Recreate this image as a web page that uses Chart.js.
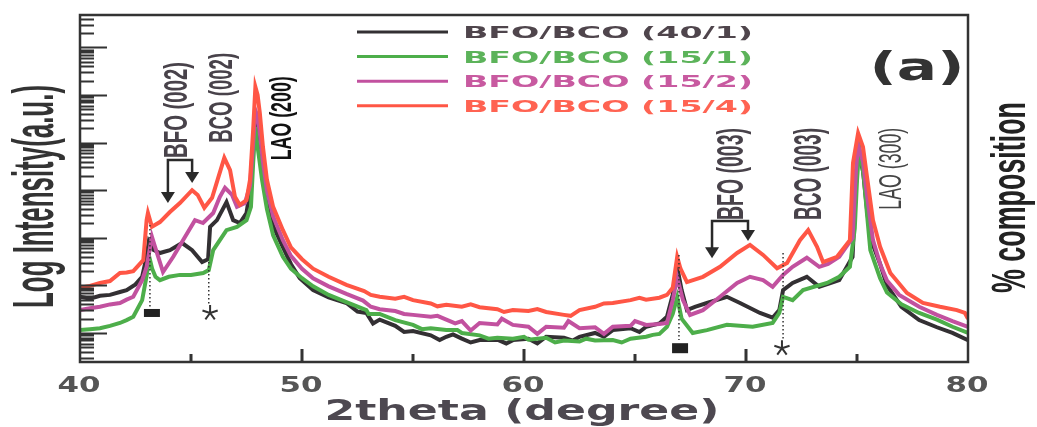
<!DOCTYPE html>
<html>
<head>
<meta charset="utf-8">
<title>XRD BFO/BCO</title>
<script src="https://cdn.jsdelivr.net/npm/chart.js@4.4.1/dist/chart.umd.min.js"></script>
<style>
  html, body { margin: 0; padding: 0; background: #fff; }
  #wrap { width: 1037px; height: 427px; }
</style>
</head>
<body>
<div id="wrap"><canvas id="xrd" width="1037" height="427"></canvas></div>
<script>
// [2theta (deg), log10 intensity]
const bfoBco40_1 = [
  [40,1.76],[40.45,1.72],[40.9,1.78],[41.35,1.80],[41.8,1.86],[42.1,1.90],[42.5,2.02],[42.8,2.18],
  [43.0,2.60],[43.1,2.92],[43.3,2.75],[43.6,2.68],[44.05,2.74],[44.6,2.89],[45.05,2.74],[45.5,2.49],
  [45.77,2.55],[45.86,3.23],[46.17,3.37],[46.6,3.75],[46.9,3.37],[47.2,3.31],[47.5,3.52],[47.66,4.00],
  [47.8,4.90],[47.9,5.55],[48.0,5.35],[48.1,5.00],[48.24,4.45],[48.42,3.85],[48.7,3.25],[49.14,2.80],
  [49.5,2.45],[49.9,2.15],[50.5,1.90],[51.2,1.75],[52.0,1.63],[52.5,1.45],[52.9,1.42],[53.2,1.20],
  [53.5,1.28],[54.2,1.15],[54.6,1.02],[55.0,1.04],[55.8,0.95],[56.2,0.85],[56.5,0.92],[56.8,0.97],
  [57.2,0.88],[57.6,0.80],[58.0,0.85],[58.8,0.86],[59.2,0.78],[59.5,0.85],[60.2,0.88],[60.6,0.78],
  [61.0,0.92],[61.8,0.90],[62.2,0.84],[62.5,0.92],[63.2,1.00],[63.6,0.92],[64.0,1.06],[64.8,1.10],
  [65.2,1.02],[65.5,1.13],[66.1,1.20],[66.44,1.34],[66.7,1.80],[66.9,2.39],[67.1,1.90],[67.34,1.48],
  [67.7,1.55],[68.24,1.63],[69.14,1.76],[69.73,1.63],[70.63,1.42],[71.2,1.32],[71.5,1.48],[71.67,1.90],
  [72.1,2.05],[72.74,2.18],[73.3,1.97],[73.8,2.05],[74.2,2.11],[74.8,2.60],[74.95,4.10],[75.05,4.85],
  [75.27,4.40],[75.45,3.60],[75.6,3.00],[76.04,2.45],[76.35,2.00],[77.0,1.55],[77.8,1.27],[78.6,1.12],
  [79.3,1.00],[80,0.85]
];
const bfoBco15_1 = [
  [40,1.06],[40.45,1.08],[40.9,1.10],[41.35,1.15],[41.8,1.21],[42.1,1.27],[42.4,1.34],[42.8,1.69],
  [43.0,2.20],[43.12,2.60],[43.25,2.35],[43.4,2.18],[43.6,2.11],[44.0,2.18],[44.5,2.22],[45.0,2.22],
  [45.55,2.26],[45.8,2.32],[46.0,2.74],[46.3,2.95],[46.6,3.16],[47.07,3.23],[47.5,3.37],[47.7,3.65],
  [47.8,4.57],[47.9,5.33],[48.0,4.91],[48.2,4.22],[48.42,3.60],[48.7,3.05],[49.14,2.60],[49.5,2.35],
  [50.0,2.15],[50.5,1.98],[51.2,1.80],[52.0,1.65],[52.9,1.48],[53.0,1.40],[53.5,1.40],[54.2,1.27],
  [55.0,1.17],[55.4,1.08],[55.8,1.10],[56.5,1.06],[57.0,1.06],[57.2,1.00],[58.0,0.95],[58.4,0.88],
  [58.8,0.90],[59.5,0.88],[60.0,0.92],[60.2,0.86],[61.0,0.90],[61.4,0.80],[61.8,0.84],[62.5,0.82],
  [62.8,0.88],[63.2,0.84],[64.0,0.85],[64.4,0.80],[64.8,0.88],[65.5,0.92],[65.8,0.96],[66.1,0.98],
  [66.44,1.13],[66.7,1.40],[66.9,1.75],[67.1,1.30],[67.6,1.00],[68.24,1.06],[69.14,1.17],[70.3,1.13],
  [71.2,1.21],[71.5,1.42],[71.67,1.76],[72.1,1.69],[72.57,1.90],[73.65,2.05],[74.2,2.18],[74.68,2.39],
  [74.9,3.20],[75.0,4.20],[75.1,4.91],[75.3,4.30],[75.45,3.50],[75.6,2.74],[76.04,2.15],[76.35,1.85],
  [77.0,1.60],[77.8,1.42],[78.6,1.28],[79.3,1.13],[80,1.00]
];
const bfoBco15_2 = [
  [40,1.48],[40.45,1.52],[40.9,1.55],[41.35,1.60],[41.8,1.63],[42.1,1.70],[42.4,1.76],[42.8,2.11],
  [43.0,2.39],[43.24,3.02],[43.38,2.81],[43.74,2.28],[44.2,2.60],[44.64,2.95],[45.18,3.37],[45.54,3.31],
  [46.0,3.52],[46.3,3.86],[46.53,4.05],[46.85,3.90],[47.07,3.65],[47.43,3.73],[47.66,4.10],[47.8,4.99],
  [47.9,5.68],[48.0,5.55],[48.1,5.20],[48.24,4.60],[48.42,4.00],[48.7,3.45],[49.14,2.95],[49.5,2.62],
  [50.0,2.35],[50.5,2.15],[51.2,1.98],[52.0,1.82],[52.75,1.68],[53.1,1.55],[53.5,1.50],[54.2,1.46],
  [54.6,1.40],[55.0,1.38],[55.8,1.34],[56.1,1.36],[56.5,1.28],[56.9,1.20],[57.2,1.25],[57.6,1.05],
  [58.0,1.21],[58.8,1.18],[59.0,1.30],[59.5,1.17],[60.2,1.13],[60.6,0.98],[61.0,1.13],[61.8,1.11],
  [62.0,1.25],[62.5,1.10],[63.2,1.12],[63.6,0.98],[64.0,1.13],[64.8,1.15],[65.0,1.25],[65.5,1.17],
  [66.1,1.19],[66.44,1.21],[66.7,1.69],[66.9,2.17],[67.16,1.69],[67.48,1.38],[68.06,1.48],[68.83,1.76],
  [69.6,2.05],[70.18,2.18],[70.77,2.11],[71.2,1.97],[71.67,2.22],[72.1,2.39],[72.74,2.58],[73.3,2.39],
  [73.7,2.45],[74.2,2.60],[74.8,3.00],[74.95,4.40],[75.05,4.95],[75.27,4.60],[75.45,3.90],[75.72,2.95],
  [76.04,2.45],[76.35,2.10],[76.9,1.80],[77.8,1.55],[78.6,1.38],[79.3,1.25],[80,1.13]
];
const bfoBco15_4 = [
  [40,1.95],[40.45,1.99],[40.9,2.05],[41.35,2.09],[41.8,2.26],[42.1,2.27],[42.4,2.30],[42.85,2.53],
  [43.0,3.37],[43.06,3.52],[43.24,3.23],[43.6,3.33],[44.05,3.54],[44.5,3.73],[45.05,4.00],[45.3,3.90],
  [45.6,3.63],[45.95,3.84],[46.2,4.22],[46.5,4.68],[46.76,4.42],[46.98,3.86],[47.2,3.69],[47.5,3.79],
  [47.66,4.22],[47.8,5.27],[47.9,6.17],[48.0,6.00],[48.1,5.62],[48.24,4.91],[48.42,4.22],[48.7,3.65],
  [49.14,3.16],[49.5,2.80],[50.0,2.55],[50.5,2.35],[51.2,2.18],[52.0,2.01],[52.8,1.88],[53.1,1.80],
  [53.5,1.76],[54.2,1.72],[54.6,1.76],[55.0,1.69],[55.8,1.62],[56.1,1.56],[56.5,1.59],[57.2,1.55],
  [57.6,1.60],[58.0,1.54],[58.8,1.50],[59.1,1.44],[59.5,1.48],[60.2,1.46],[60.6,1.50],[61.0,1.44],
  [61.8,1.38],[62.1,1.36],[62.5,1.48],[63.2,1.55],[63.6,1.62],[64.0,1.63],[64.8,1.69],[65.2,1.74],
  [65.5,1.70],[66.1,1.74],[66.44,1.80],[66.7,1.95],[66.9,2.60],[67.05,2.35],[67.34,2.07],[68.06,2.18],
  [68.83,2.39],[69.6,2.68],[70.18,2.85],[70.77,2.64],[71.4,2.36],[71.85,2.47],[72.43,2.95],[72.8,3.16],
  [73.2,2.81],[73.47,2.49],[74.1,2.60],[74.68,2.95],[74.82,4.57],[75.05,5.20],[75.27,4.91],[75.45,4.28],
  [75.72,3.37],[76.04,2.81],[76.5,2.26],[77.25,1.84],[77.97,1.63],[78.74,1.55],[79.5,1.48],[79.86,1.42],
  [80,1.30]
];

const seriesNames = ["BFO/BCO (40/1)", "BFO/BCO (15/1)", "BFO/BCO (15/2)", "BFO/BCO (15/4)"];
const seriesColors = ["#333033", "#4dae4a", "#c2519f", "#ff5645"];
const legendTextColors = ["#4f454c", "#5cb35a", "#c85aa0", "#ff6352"];
const xTickLabels = [40, 50, 60, 70, 80];

const NARROW = '"Liberation Sans Narrow", "Liberation Sans", Arial, sans-serif';
const WIDE = '"DejaVu Sans", Verdana, sans-serif';

// text squeezed/stretched to a target length, centred on its cap band
function fitText(ctx, text, o) {
  const size = o.cap / 0.72;
  ctx.save();
  ctx.font = (o.weight || "bold") + " " + size + "px " + (o.family || NARROW);
  const w = ctx.measureText(text).width;
  ctx.translate(o.x, o.y);
  ctx.rotate(o.rot || 0);
  ctx.scale(o.len / w, 1);
  ctx.fillStyle = o.color || "#333";
  ctx.textAlign = o.align || "center";
  ctx.textBaseline = "alphabetic";
  ctx.fillText(text, 0, o.cap / 2);
  ctx.restore();
}

function arrowDown(ctx, x, y) {
  ctx.beginPath();
  ctx.moveTo(x - 7, y - 11);
  ctx.lineTo(x + 7, y - 11);
  ctx.lineTo(x, y);
  ctx.closePath();
  ctx.fill();
}

function asterisk(ctx, x, y, r) {
  ctx.beginPath();
  for (let i = 0; i < 5; i++) {
    const a = -Math.PI / 2 + i * 2 * Math.PI / 5;
    ctx.moveTo(x, y);
    ctx.lineTo(x + r * Math.cos(a), y + r * Math.sin(a));
  }
  ctx.stroke();
}

const peakLabels = [
  { text: "BFO (002)", x: 44.28, y: 5.685, len: 96, cap: 24, color: "#48424a" },
  { text: "BCO (002)", x: 46.31, y: 5.94, len: 90, cap: 24, color: "#48424a" },
  { text: "LAO (200)", x: 49.05, y: 5.51, len: 84, cap: 21, color: "#111" },
  { text: "BFO (003)", x: 69.28, y: 4.34, len: 92, cap: 26, color: "#48424a" },
  { text: "BCO (003)", x: 72.75, y: 4.34, len: 92, cap: 28, color: "#48424a" },
  { text: "LAO (300)", x: 76.49, y: 4.45, len: 82, cap: 22, color: "#444", weight: "normal" }
];
const brackets = [
  { top: 4.635, left: 43.96, right: 45.05, leftTip: 3.73, rightTip: 4.15 },
  { top: 3.35, left: 68.47, right: 70.09, leftTip: 2.57, rightTip: 2.93 }
];
const dropLines = [
  { x: 43.15, from: 3.27, to: 1.55, mark: "square", mx: 43.24, my: 1.42, w: 16, h: 8 },
  { x: 45.8, from: 2.49, to: 1.59, mark: "star", mx: 45.86, my: 1.42 },
  { x: 66.98, from: 2.64, to: 0.85, mark: "square", mx: 67.03, my: 0.68, w: 16, h: 10 },
  { x: 71.67, from: 2.68, to: 0.85, mark: "star", mx: 71.62, my: 0.68 }
];

const decor = {
  id: "decor",
  beforeDraw(chart) {
    const ctx = chart.ctx;
    ctx.save();
    ctx.fillStyle = "#fff";
    ctx.fillRect(0, 0, chart.width, chart.height);
    ctx.restore();
  },
  afterDatasetsDraw(chart) {
    const ctx = chart.ctx;
    const xs = chart.scales.x, ys = chart.scales.y;
    const a = chart.chartArea;
    ctx.save();

    // frame
    ctx.strokeStyle = "#333";
    ctx.lineWidth = 2.5;
    ctx.strokeRect(a.left, a.top, a.right - a.left, a.bottom - a.top);

    // log ticks on the left axis, pointing inwards
    ctx.lineWidth = 2;
    ctx.beginPath();
    for (let d = 0; d <= 7; d++) {
      for (let k = 1; k <= 9; k++) {
        const v = d + Math.log10(k);
        if (v < ys.min || v > ys.max) continue;
        const p = Math.round(ys.getPixelForValue(v)) + 0.5;
        ctx.moveTo(a.left, p);
        ctx.lineTo(a.left + (k === 1 ? 27 : 14), p);
      }
    }
    ctx.stroke();

    // x ticks, inwards from the bottom
    ctx.lineWidth = 3;
    ctx.beginPath();
    for (let v = 45; v < 80; v += 5) {
      const p = xs.getPixelForValue(v);
      ctx.moveTo(p, a.bottom);
      ctx.lineTo(p, a.bottom - (v % 10 === 0 ? 13 : 8));
    }
    ctx.stroke();

    // x tick labels and titles
    xTickLabels.forEach((v) => {
      fitText(ctx, String(v), { x: xs.getPixelForValue(v) - 1, y: 384.5, len: 43, cap: 15,
        family: WIDE, color: "#555" });
    });
    fitText(ctx, "2theta (degree)", { x: 522, y: 410, len: 395, cap: 20, family: WIDE, color: "#4d4850" });
    fitText(ctx, "Log Intensity(a.u.)", { x: 32.5, y: 196.5, len: 223, cap: 41, rot: -Math.PI / 2, color: "#333" });
    fitText(ctx, "% composition", { x: 1007.5, y: 197.5, len: 191, cap: 35, rot: -Math.PI / 2, color: "#222" });
    fitText(ctx, "(a)", { x: 917, y: 66, len: 95, cap: 28, family: WIDE, color: "#333" });

    // legend
    seriesNames.forEach((name, i) => {
      const yy = 32 + i * 24.6;
      ctx.strokeStyle = seriesColors[i];
      ctx.lineWidth = 3;
      ctx.beginPath();
      ctx.moveTo(357, yy);
      ctx.lineTo(448, yy);
      ctx.stroke();
      fitText(ctx, name, { x: 463, y: yy, len: 290, cap: 12, family: WIDE, align: "left",
        color: legendTextColors[i] });
    });

    // peak labels
    peakLabels.forEach((l) => {
      fitText(ctx, l.text, { x: xs.getPixelForValue(l.x), y: ys.getPixelForValue(l.y), len: l.len,
        cap: l.cap, rot: -Math.PI / 2, color: l.color, weight: l.weight || "bold" });
    });

    // bracket arrows
    ctx.strokeStyle = "#2a2a2a";
    ctx.fillStyle = "#2a2a2a";
    ctx.lineWidth = 2.5;
    brackets.forEach((b) => {
      const l = xs.getPixelForValue(b.left), r = xs.getPixelForValue(b.right);
      const t = ys.getPixelForValue(b.top);
      const lt = ys.getPixelForValue(b.leftTip), rt = ys.getPixelForValue(b.rightTip);
      ctx.beginPath();
      ctx.moveTo(l, lt - 10);
      ctx.lineTo(l, t);
      ctx.lineTo(r, t);
      ctx.lineTo(r, rt - 10);
      ctx.stroke();
      arrowDown(ctx, l, lt);
      arrowDown(ctx, r, rt);
    });

    // dotted drop lines with markers
    dropLines.forEach((d) => {
      const px = xs.getPixelForValue(d.x);
      ctx.save();
      ctx.setLineDash([1.5, 2.5]);
      ctx.lineWidth = 1.5;
      ctx.strokeStyle = "#333";
      ctx.beginPath();
      ctx.moveTo(px, ys.getPixelForValue(d.from));
      ctx.lineTo(px, ys.getPixelForValue(d.to));
      ctx.stroke();
      ctx.restore();
      const mx = xs.getPixelForValue(d.mx), my = ys.getPixelForValue(d.my);
      if (d.mark === "square") {
        ctx.fillStyle = "#222";
        ctx.fillRect(mx - d.w / 2, my - d.h / 2, d.w, d.h);
      } else {
        ctx.strokeStyle = "#333";
        ctx.lineWidth = 2;
        asterisk(ctx, mx, my, 8);
      }
    });

    ctx.restore();
  }
};

document.addEventListener("DOMContentLoaded", () => {
  const all = [bfoBco40_1, bfoBco15_1, bfoBco15_2, bfoBco15_4];
  const drawOrder = [3, 2, 1, 0];
  new Chart(document.getElementById("xrd"), {
    type: "line",
    data: {
      datasets: all.map((pts, i) => ({
        label: seriesNames[i],
        data: pts.map((p) => ({ x: p[0], y: p[1] })),
        borderColor: seriesColors[i],
        backgroundColor: seriesColors[i],
        borderWidth: 4,
        pointRadius: 0,
        tension: 0,
        fill: false,
        order: drawOrder[i],
      })),
    },
    options: {
      responsive: false,
      animation: false,
      layout: { padding: { left: 80, top: 15, right: 69, bottom: 65 } },
      scales: {
        x: { type: "linear", min: 40, max: 80, display: false },
        y: { type: "linear", min: 0.39, max: 7.68, display: false },
      },
      plugins: {
        legend: { display: false },
        tooltip: { enabled: false },
      },
    },
    plugins: [decor],
  });
});
</script>
</body>
</html>
